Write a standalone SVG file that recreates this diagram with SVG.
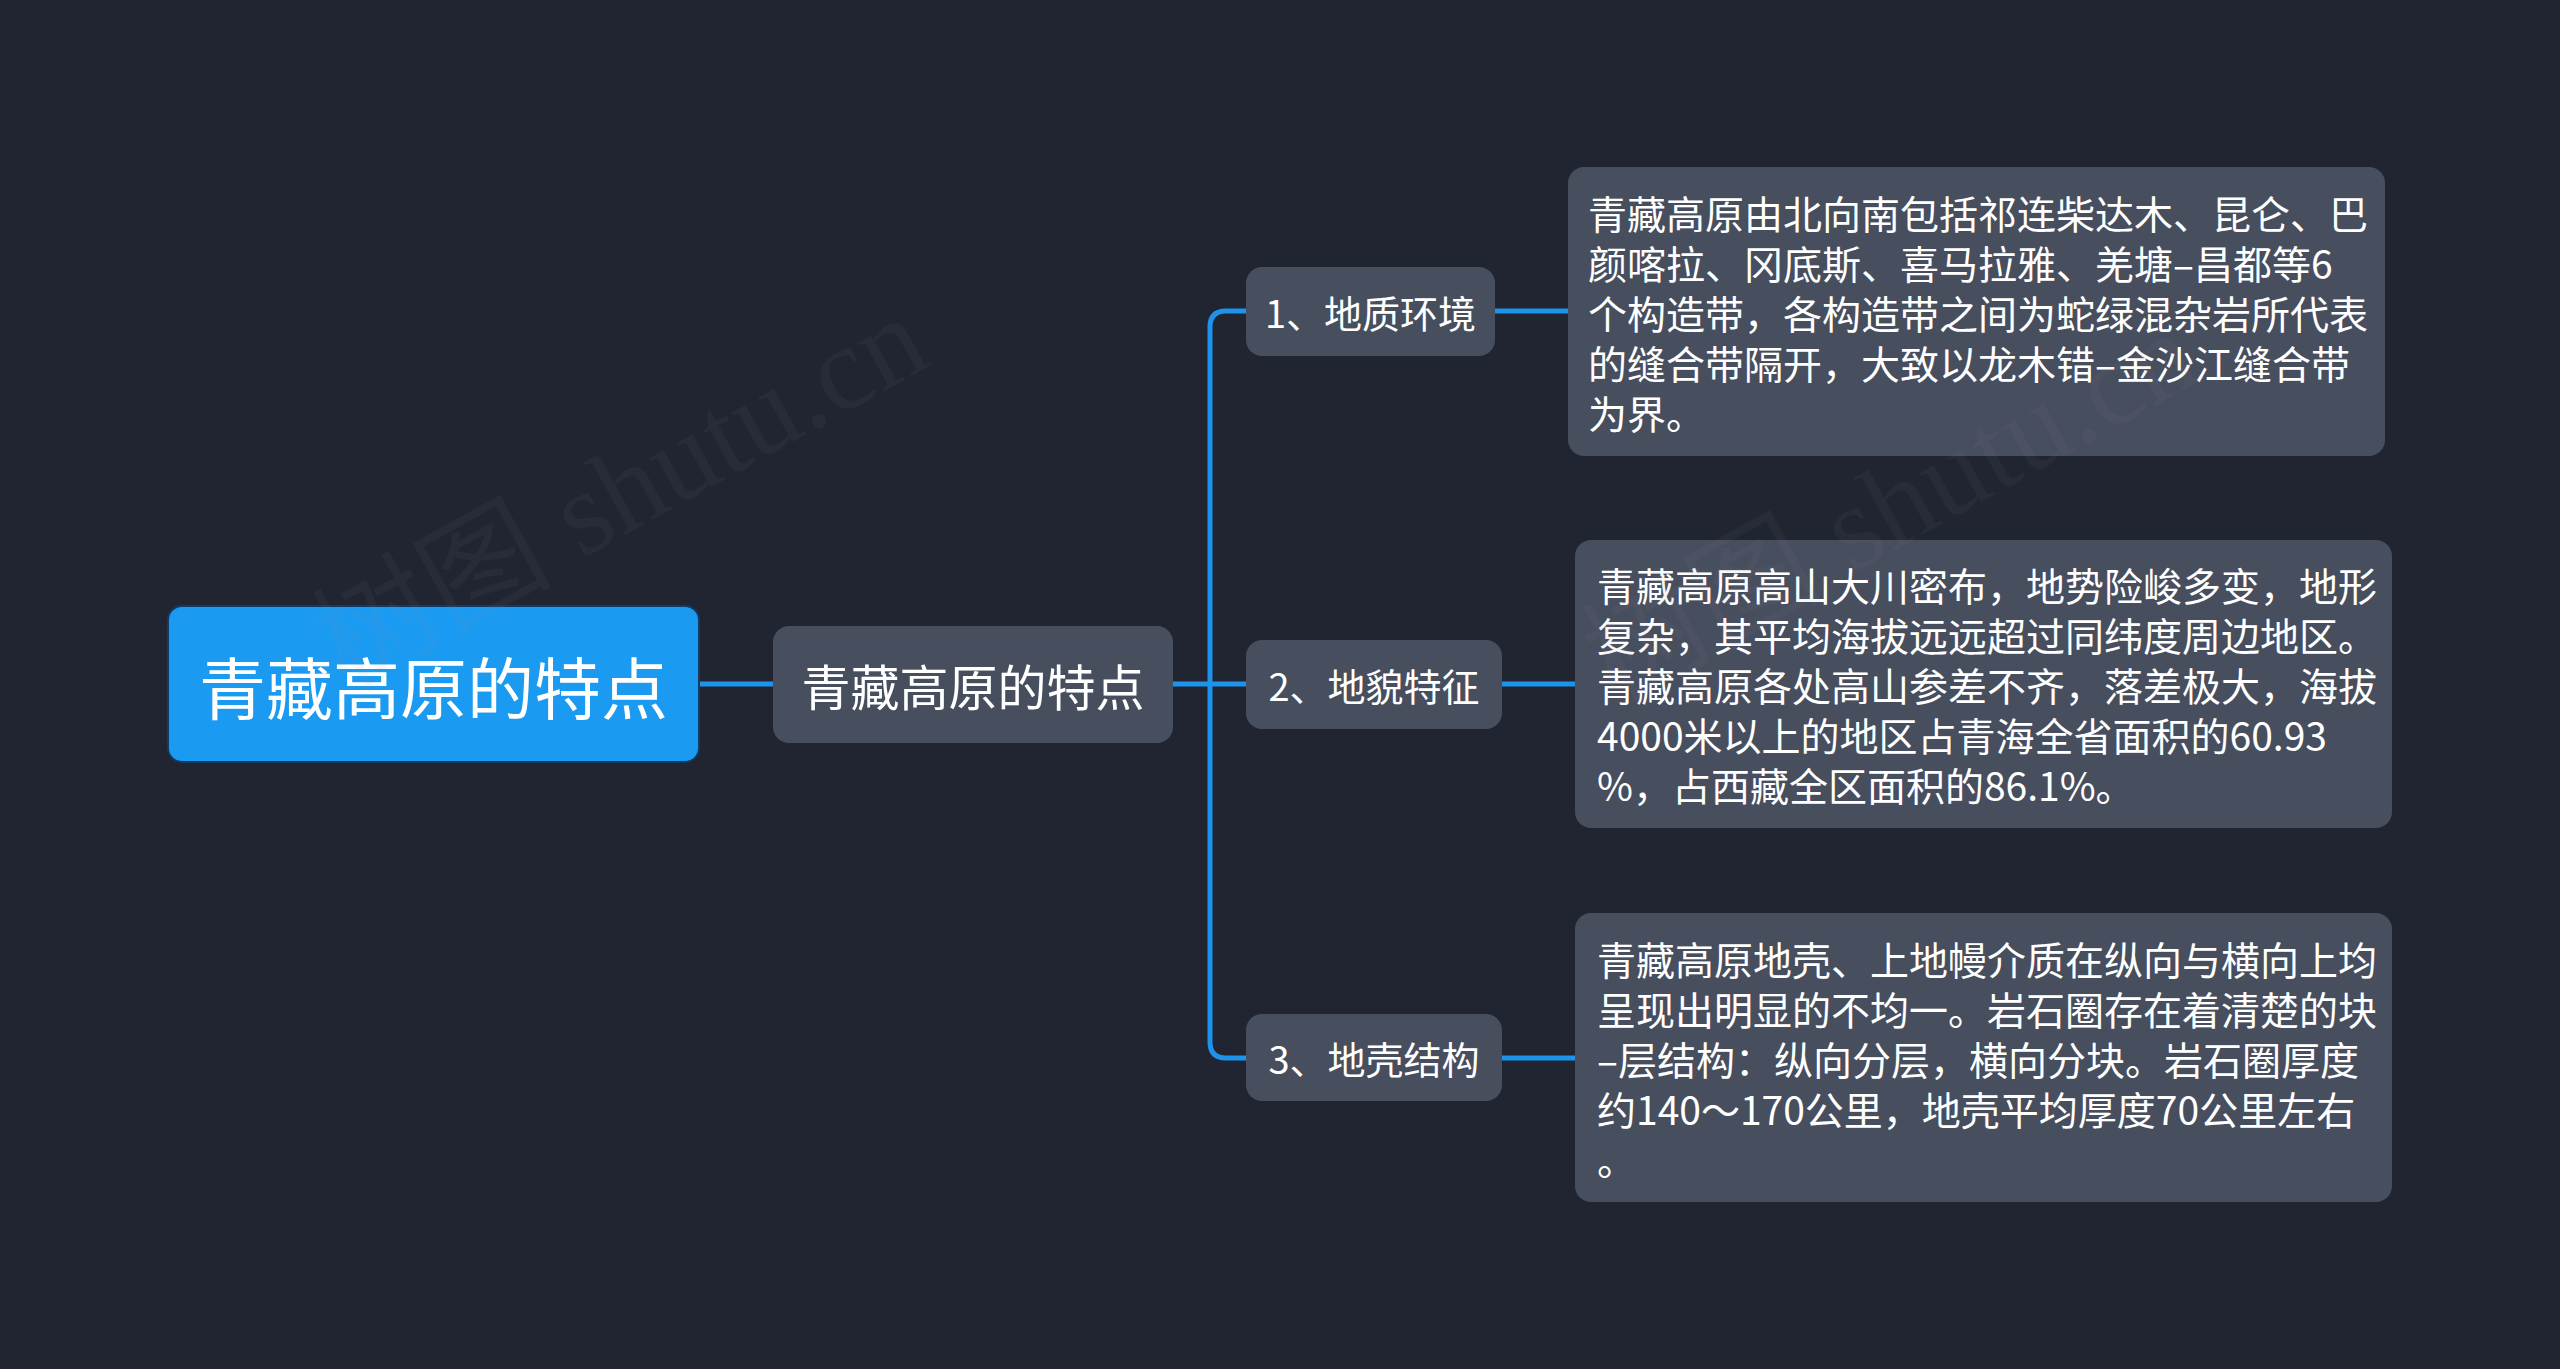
<svg xmlns="http://www.w3.org/2000/svg" width="2560" height="1369" viewBox="0 0 2560 1369">
<style>
.bg{fill:#212531}
.root{fill:#1a9af0;stroke:#123a63;stroke-width:2}
.node{fill:#474e5e}
.t{fill:#ffffff;font-family:"Noto Sans CJK SC","Noto Sans",sans-serif;dominant-baseline:central}
.edge{fill:none;stroke:#1d93ec;stroke-width:5;stroke-linecap:round;stroke-linejoin:round}
.wm{fill:#8a8f9c;fill-opacity:0.07;font-family:"Liberation Serif","Noto Sans CJK SC",serif;font-size:120px}
</style>
<rect class="bg" x="0" y="0" width="2560" height="1369"/>
<g id="connectors">
<path class="edge" d="M699 684 H773"/>
<path class="edge" d="M1173 684 H1246"/>
<path class="edge" d="M1246 311 H1226 Q1210 311 1210 327 V1042 Q1210 1058 1226 1058 H1246"/>
<path class="edge" d="M1495 311 H1568"/>
<path class="edge" d="M1502 684 H1575"/>
<path class="edge" d="M1502 1058 H1575"/>
</g>
<g id="root">
<rect class="root" x="168" y="606" width="531" height="156" rx="14"/>
<text class="t" x="433.5" y="684" font-size="67" text-anchor="middle">青藏高原的特点</text>
</g>
<g id="main">
<rect class="node" x="773" y="626" width="400" height="117" rx="16"/>
<text class="t" x="973" y="684.5" font-size="49" text-anchor="middle">青藏高原的特点</text>
</g>
<g id="branch1">
<rect class="node" x="1246" y="267" width="249" height="89" rx="16"/>
<text class="t" x="1370.5" y="311.5" font-size="38" text-anchor="middle">1、地质环境</text>
</g>
<g id="branch2">
<rect class="node" x="1246" y="640" width="256" height="89" rx="16"/>
<text class="t" x="1374" y="684.5" font-size="38" text-anchor="middle">2、地貌特征</text>
</g>
<g id="branch3">
<rect class="node" x="1246" y="1014" width="256" height="87" rx="16"/>
<text class="t" x="1374" y="1057.5" font-size="38" text-anchor="middle">3、地壳结构</text>
</g>
<g id="leaf1">
<rect class="node" x="1568" y="167" width="817" height="289" rx="16"/>
<text class="t" font-size="39">
<tspan x="1588" y="211.5">青藏高原由北向南包括祁连柴达木、昆仑、巴</tspan>
<tspan x="1588" y="261.5">颜喀拉、冈底斯、喜马拉雅、羌塘–昌都等6</tspan>
<tspan x="1588" y="311.5">个构造带，各构造带之间为蛇绿混杂岩所代表</tspan>
<tspan x="1588" y="361.5">的缝合带隔开，大致以龙木错–金沙江缝合带</tspan>
<tspan x="1588" y="411.5">为界。</tspan>
</text>
</g>
<g id="leaf2">
<rect class="node" x="1575" y="540" width="817" height="288" rx="16"/>
<text class="t" font-size="39">
<tspan x="1597" y="584">青藏高原高山大川密布，地势险峻多变，地形</tspan>
<tspan x="1597" y="634">复杂，其平均海拔远远超过同纬度周边地区。</tspan>
<tspan x="1597" y="684">青藏高原各处高山参差不齐，落差极大，海拔</tspan>
<tspan x="1597" y="734">4000米以上的地区占青海全省面积的60.93</tspan>
<tspan x="1597" y="784">%，占西藏全区面积的86.1%。</tspan>
</text>
</g>
<g id="leaf3">
<rect class="node" x="1575" y="913" width="817" height="289" rx="16"/>
<text class="t" font-size="39">
<tspan x="1597" y="957.5">青藏高原地壳、上地幔介质在纵向与横向上均</tspan>
<tspan x="1597" y="1007.5">呈现出明显的不均一。岩石圈存在着清楚的块</tspan>
<tspan x="1597" y="1057.5">–层结构：纵向分层，横向分块。岩石圈厚度</tspan>
<tspan x="1597" y="1107.5">约140～170公里，地壳平均厚度70公里左右</tspan>
<tspan x="1597" y="1157.5">。</tspan>
</text>
</g>
<g id="watermarks">
<text class="wm" transform="translate(345 690) rotate(-29)">树图 shutu.cn</text>
<text class="wm" transform="translate(1615 705) rotate(-29)">树图 shutu.cn</text>
</g>
</svg>
